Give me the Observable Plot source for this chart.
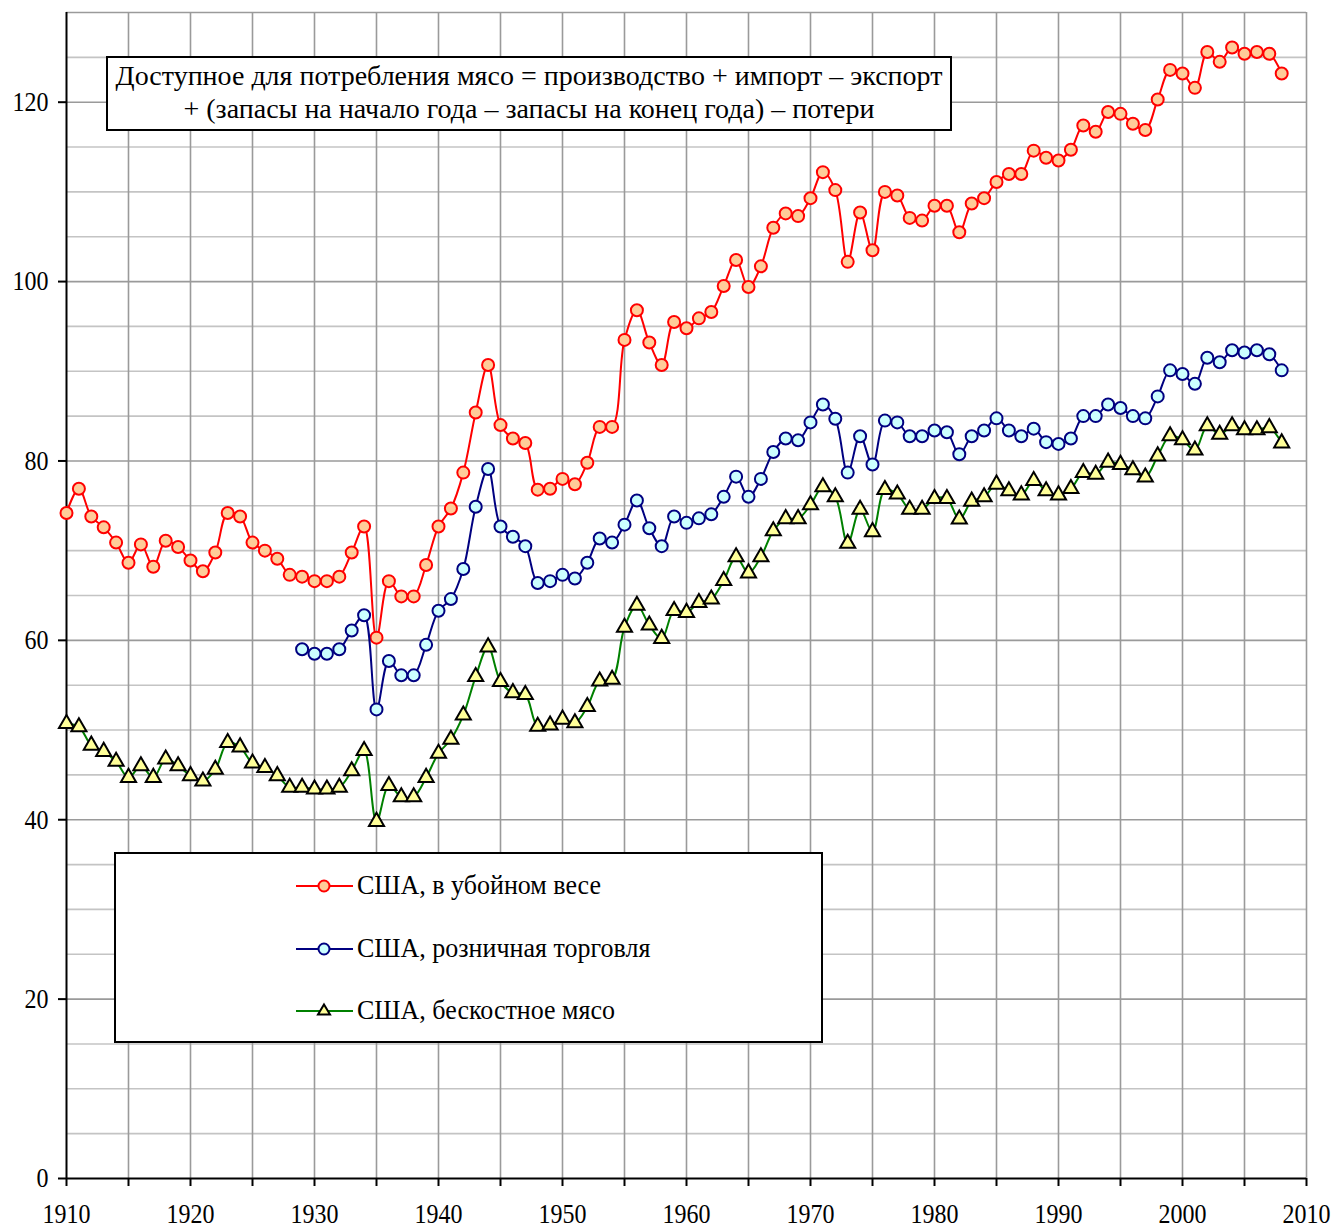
<!DOCTYPE html>
<html>
<head>
<meta charset="utf-8">
<script src="https://cdn.jsdelivr.net/npm/d3@7"></script>
<script src="https://cdn.jsdelivr.net/npm/@observablehq/plot@0.6"></script>
<style>
  html, body { margin: 0; padding: 0; background: #fff; }
  #wrap { position: relative; width: 1335px; height: 1228px; font-family: "Liberation Serif", "Times New Roman", serif; color: #000; }
  #wrap svg text { font-family: "Liberation Serif", "Times New Roman", serif !important; }
  .box { position: absolute; background: #fff; border: 2px solid #000; box-sizing: border-box; }
  #title { left: 106px; top: 56px; width: 846px; height: 75px; text-align: center; font-size: 28px; line-height: 33px; padding-top: 1px; }
  #legend { left: 114px; top: 852px; width: 709px; height: 191px; font-size: 26px; }
  .entry { position: absolute; left: 180px; height: 30px; display: flex; align-items: center; }
  .entry svg { margin-right: 4px; }
  .txt { display: inline-block; transform-origin: center; white-space: nowrap; }
  #legend .txt { transform: scaleY(1.05); }
</style>
</head>
<body>
<div id="wrap"></div>
<script>
// ---- data ----
const years = d3.range(1910, 2009);
const retailYears = d3.range(1929, 2009);

const carcass = [
  74.2, 76.9, 73.8, 72.6, 70.9, 68.65, 70.7, 68.2, 71.1, 70.4,
  68.9, 67.7, 69.8, 74.2, 73.8, 70.9, 70.0, 69.1, 67.3, 67.1,
  66.6, 66.6, 67.1, 69.8, 72.7, 60.3, 66.6, 64.9, 64.9, 68.4,
  72.7, 74.7, 78.7, 85.4, 90.7, 84.0, 82.5, 82.0, 76.8, 76.9,
  78.0, 77.4, 79.8, 83.8, 83.8, 93.5, 96.8, 93.2, 90.7, 95.5,
  94.8, 95.9, 96.6, 99.5, 102.4, 99.4, 101.7, 106.0, 107.6, 107.3,
  109.3, 112.2, 110.2, 102.2, 107.7, 103.5, 110.0, 109.6, 107.1, 106.8,
  108.45, 108.45, 105.5, 108.7, 109.3, 111.1, 112.0, 112.0, 114.6, 113.8,
  113.5, 114.7, 117.4, 116.7, 118.9, 118.7, 117.6, 116.9, 120.3, 123.6,
  123.2, 121.6, 125.6, 124.5, 126.1, 125.4, 125.6, 125.4, 123.2
];

const retail = [
  59.0, 58.5, 58.5, 59.0, 61.1, 62.8, 52.3, 57.7, 56.1, 56.1,
  59.5, 63.3, 64.6, 67.95, 74.9, 79.1, 72.7, 71.55, 70.5, 66.4,
  66.6, 67.3, 66.9, 68.65, 71.35, 70.9, 72.9, 75.6, 72.5, 70.5,
  73.8, 73.1, 73.6, 74.05, 76.0, 78.25, 76.0, 78.0, 81.0, 82.5,
  82.3, 84.3, 86.3, 84.7, 78.7, 82.75, 79.6, 84.5, 84.3, 82.75,
  82.75, 83.4, 83.2, 80.75, 82.75, 83.4, 84.75, 83.4, 82.75, 83.6,
  82.1, 81.9, 82.5, 85.0, 85.0, 86.3, 85.9, 85.0, 84.75, 87.2,
  90.1, 89.7, 88.6, 91.5, 91.0, 92.35, 92.1, 92.35, 91.9, 90.1
];

const boneless = [
  50.7, 50.35, 48.3, 47.6, 46.5, 44.7, 46.0, 44.7, 46.75, 46.0,
  44.9, 44.3, 45.6, 48.6, 48.1, 46.3, 45.8, 44.9, 43.6, 43.6,
  43.4, 43.4, 43.6, 45.45, 47.7, 39.8, 43.8, 42.55, 42.55, 44.7,
  47.4, 48.95, 51.65, 55.95, 59.25, 55.4, 54.15, 53.95, 50.4, 50.55,
  51.2, 50.8, 52.6, 55.45, 55.65, 61.45, 63.9, 61.7, 60.2, 63.3,
  63.1, 64.2, 64.6, 66.65, 69.3, 67.5, 69.3, 72.2, 73.55, 73.55,
  75.1, 77.1, 76.0, 70.8, 74.6, 72.1, 76.8, 76.3, 74.6, 74.6,
  75.8, 75.8, 73.5, 75.5, 76.0, 77.4, 76.65, 76.2, 77.8, 76.65,
  76.2, 76.9, 78.7, 78.5, 79.85, 79.6, 79.0, 78.2, 80.55, 82.8,
  82.35, 81.2, 83.9, 82.95, 83.9, 83.45, 83.45, 83.7, 82.0
];

const seriesNames = ["США, в убойном весе", "США, розничная торговля", "США, бескостное мясо"];
const titleLines = [
  "Доступное для потребления мясо = производство + импорт – экспорт",
  "+ (запасы на начало года – запасы на конец года) – потери"
];

const xTicks = d3.range(1910, 2011, 5);
const yTicks = d3.range(0, 121, 20);
const yMinor = d3.range(5, 131, 5).filter(v => v % 20 !== 0 && v !== 130);
const yMajor = d3.range(20, 121, 20).concat([130]);
const xGrid = d3.range(1915, 2011, 5);

// ---- tables ----
const redData = years.map((y, i) => ({year: y, v: carcass[i]}));
const blueData = retailYears.map((y, i) => ({year: y, v: retail[i]}));
const greenData = years.map((y, i) => ({year: y, v: boneless[i]}));

const RED = "#ff0000", RED_FILL = "#ffcc99";
const BLUE = "#000080", BLUE_FILL = "#ccffff";
const GREEN = "#008000", GREEN_FILL = "#ffff99";

const chart = Plot.plot({
  width: 1335,
  height: 1228,
  marginLeft: 66,
  marginRight: 29,
  marginTop: 12,
  marginBottom: 50,
  x: {domain: [1910, 2010]},
  y: {domain: [0, 130]},
  style: {fontFamily: "'Liberation Serif', 'Times New Roman', serif", fontSize: "24px", color: "#000", background: "#fff", overflow: "visible"},
  marks: [
    Plot.ruleY(yMinor, {stroke: "#c4c4c4", strokeWidth: 1.6}),
    Plot.ruleY(yMajor, {stroke: "#9a9a9a", strokeWidth: 1.6}),
    Plot.ruleX(xGrid, {stroke: "#9a9a9a", strokeWidth: 1.6}),
    Plot.axisY({ticks: yTicks, tickSize: 8, tickPadding: 10, strokeWidth: 2, stroke: "#000", label: null, tickFormat: d => String(d)}),
    Plot.axisX({ticks: xTicks, tickSize: 8, tickPadding: 18, strokeWidth: 2, stroke: "#000", label: null, tickFormat: d => d % 10 === 0 ? String(d) : ""}),
    Plot.ruleX([1910], {stroke: "#000", strokeWidth: 2}),
    Plot.ruleY([0], {stroke: "#000", strokeWidth: 2}),
    Plot.line(redData, {x: "year", y: "v", stroke: RED, strokeWidth: 2, curve: "catmull-rom"}),
    Plot.dot(redData, {x: "year", y: "v", r: 6, fill: RED_FILL, stroke: RED, strokeWidth: 2}),
    Plot.line(blueData, {x: "year", y: "v", stroke: BLUE, strokeWidth: 2, curve: "catmull-rom"}),
    Plot.dot(blueData, {x: "year", y: "v", r: 6, fill: BLUE_FILL, stroke: BLUE, strokeWidth: 2}),
    Plot.line(greenData, {x: "year", y: "v", stroke: GREEN, strokeWidth: 2, curve: "catmull-rom"}),
    Plot.dot(greenData, {x: "year", y: "v", r: 5.6, symbol: "triangle", fill: GREEN_FILL, stroke: "#000", strokeWidth: 2})
  ]
});

const wrap = document.getElementById("wrap");
wrap.appendChild(chart);

// stretch axis tick labels vertically (the original's text is taller than it is wide)
chart.querySelectorAll('g[aria-label$="tick label"] text').forEach(t => {
  const b = t.getBBox();
  const cx = b.x + b.width / 2, cy = b.y + b.height / 2;
  const prev = t.getAttribute("transform") || "";
  t.setAttribute("transform", `${prev} translate(${cx},${cy}) scale(1,1.15) translate(${-cx},${-cy})`);
});

// title box
const title = document.createElement("div");
title.className = "box";
title.id = "title";
title.innerHTML = titleLines.map(t => `<div><span class="txt">${t}</span></div>`).join("");
wrap.appendChild(title);

// legend box
const legend = document.createElement("div");
legend.className = "box";
legend.id = "legend";
const styles = [
  {stroke: RED, fill: RED_FILL, mstroke: RED, shape: "circle"},
  {stroke: BLUE, fill: BLUE_FILL, mstroke: BLUE, shape: "circle"},
  {stroke: GREEN, fill: GREEN_FILL, mstroke: "#000", shape: "triangle"}
];
const tops = [17, 80, 142];
seriesNames.forEach((name, i) => {
  const s = styles[i];
  const marker = s.shape === "circle"
    ? `<circle cx="28" cy="15" r="5.5" fill="${s.fill}" stroke="${s.mstroke}" stroke-width="2"/>`
    : `<path d="M28,8.5 L34,18.5 L22,18.5 Z" fill="${s.fill}" stroke="${s.mstroke}" stroke-width="2"/>`;
  const e = document.createElement("div");
  e.className = "entry";
  e.style.top = tops[i] + "px";
  e.innerHTML = `<svg width="57" height="30"><line x1="0" y1="15" x2="57" y2="15" stroke="${s.stroke}" stroke-width="2"/>${marker}</svg><span class="txt">${name}</span>`;
  legend.appendChild(e);
});
wrap.appendChild(legend);
</script>
</body>
</html>
